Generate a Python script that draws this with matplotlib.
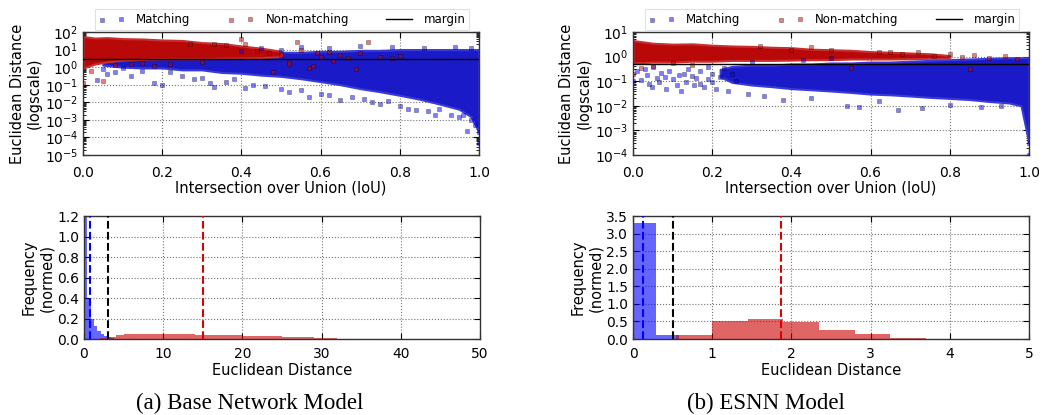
import matplotlib
matplotlib.use("Agg")
import matplotlib.pyplot as plt
from matplotlib.ticker import LogLocator, NullFormatter, MultipleLocator
import numpy as np

# ---------------- data ----------------
# (a) Base network: dense cores (IoU, low, high) and sparse points
base_blue_core_x = [0.05, 0.1, 0.15, 0.2, 0.25, 0.3, 0.35, 0.4, 0.45, 0.5, 0.55, 0.6, 0.65,
                    0.7, 0.75, 0.8, 0.85, 0.9, 0.95, 0.98, 1.0]
base_blue_core_lo = [1.3, 1.0, 0.9, 0.9, 0.7, 0.7, 0.5, 0.45, 0.35, 0.3, 0.22, 0.15, 0.1,
                     0.06, 0.04, 0.025, 0.015, 0.008, 0.004, 0.0015, 0.0002]
base_blue_core_hi = [3.0, 3.0, 3.5, 4.0, 4.0, 5.0, 5.0, 6.0, 6.0, 7.0, 7.0, 8.0, 8.0,
                     9.0, 9.0, 10.0, 10.0, 10.0, 10.0, 10.0, 10.0]
base_red_core_x = [0.0, 0.03, 0.06, 0.1, 0.15, 0.2, 0.25, 0.3, 0.35, 0.4, 0.45, 0.5]
base_red_core_lo = [0.9, 1.5, 2.0, 2.5, 2.8, 3.0, 3.0, 3.0, 3.2, 3.3, 3.5, 4.0]
base_red_core_hi = [55, 45, 48, 42, 40, 35, 33, 25, 22, 16, 12, 8]

base_blue_pts_x = [0.034, 0.061, 0.05, 0.08, 0.1, 0.12, 0.15, 0.18, 0.2, 0.22, 0.25, 0.28,
                   0.3, 0.32, 0.33, 0.36, 0.38, 0.41, 0.43, 0.46, 0.5, 0.52, 0.55, 0.57,
                   0.6, 0.62, 0.65, 0.68, 0.71, 0.73, 0.75, 0.77, 0.8, 0.82, 0.84, 0.87,
                   0.89, 0.9, 0.93, 0.95, 0.96, 0.97, 0.98, 0.99, 1.0, 1.0, 0.45, 0.55,
                   0.62, 0.7, 0.78, 0.86, 0.94, 0.98, 0.4, 0.5]
base_blue_pts_y = [0.19, 0.41, 0.8, 0.5, 0.9, 0.3, 0.6, 0.13, 0.095, 0.5, 0.3, 0.2,
                   0.25, 0.12, 0.07, 0.15, 0.2, 0.063, 0.1, 0.09, 0.06, 0.04, 0.05, 0.019,
                   0.03, 0.025, 0.013, 0.02, 0.015, 0.01, 0.008, 0.012, 0.006, 0.004, 0.0036, 0.003,
                   0.0019, 0.004, 0.002, 0.0015, 0.0019, 0.00023, 0.001, 0.0005, 4.6e-5, 0.0002, 12, 14,
                   13, 15, 14, 13, 14, 12, 8, 10]

base_red_pts_x = [0.0, 0.02, 0.05, 0.08, 0.12, 0.15, 0.18, 0.22, 0.27, 0.3, 0.33, 0.36,
                  0.4, 0.41, 0.44, 0.47, 0.5, 0.52, 0.54, 0.55, 0.57, 0.59, 0.6, 0.62,
                  0.65, 0.67, 0.7, 0.72, 0.75, 0.78, 0.8, 0.48, 0.52, 0.58, 0.63, 0.69]
base_red_pts_y = [0.12, 0.6, 0.16, 1.3, 1.5, 1.7, 1.2, 1.6, 22, 2.0, 20, 18,
                  38, 22, 8, 6, 5, 2.0, 26, 9, 0.86, 6, 4, 7,
                  5, 3.5, 6, 26, 4, 3.5, 4.5, 0.5, 1.5, 1.2, 2.2, 0.8]

base_margin = 3.0

# (b) ESNN
esnn_blue_core_x = [0.22, 0.25, 0.3, 0.35, 0.4, 0.45, 0.5, 0.55, 0.6, 0.65, 0.7, 0.75, 0.8,
                    0.85, 0.9, 0.95, 0.98, 1.0]
esnn_blue_core_lo = [0.15, 0.09, 0.07, 0.06, 0.05, 0.045, 0.04, 0.035, 0.03, 0.028, 0.025,
                     0.022, 0.02, 0.018, 0.015, 0.013, 0.01, 0.0003]
esnn_blue_core_hi = [0.3, 0.4, 0.45, 0.45, 0.5, 0.5, 0.55, 0.55, 0.6, 0.6, 0.65, 0.7, 0.75,
                     0.8, 0.85, 0.9, 0.9, 0.9]
esnn_red_core_x = [0.0, 0.05, 0.1, 0.15, 0.2, 0.25, 0.3, 0.35, 0.4, 0.45, 0.5, 0.55, 0.6,
                   0.65, 0.7, 0.75, 0.8]
esnn_red_core_lo = [0.55, 0.6, 0.6, 0.65, 0.65, 0.7, 0.7, 0.7, 0.72, 0.75, 0.75, 0.8, 0.8,
                    0.8, 0.82, 0.85, 0.85]
esnn_red_core_hi = [4.5, 3.5, 3.2, 3.3, 2.9, 2.7, 2.6, 2.4, 2.3, 2.0, 1.9, 1.8, 1.6,
                    1.5, 1.4, 1.3, 1.1]

esnn_blue_pts_x = [0.0, 0.019, 0.035, 0.047, 0.05, 0.066, 0.083, 0.1, 0.12, 0.135, 0.15,
                   0.17, 0.19, 0.2, 0.22, 0.24, 0.26, 0.29, 0.33, 0.38, 0.45, 0.54,
                   0.57, 0.62, 0.67, 0.73, 0.8, 0.88, 0.93, 1.0, 1.0, 0.03, 0.09, 0.14,
                   0.18, 0.25, 0.11, 0.06, 0.16, 0.21, 0.3, 0.43, 0.5, 0.01, 0.04, 0.07,
                   0.13, 0.17, 0.2, 0.23, 0.08, 0.115, 0.155, 0.19]
esnn_blue_pts_y = [0.1, 0.11, 0.18, 0.06, 0.39, 0.09, 0.05, 0.12, 0.04, 0.09, 0.17,
                   0.08, 0.39, 0.09, 0.15, 0.04, 0.1, 0.03, 0.025, 0.017, 0.02, 0.01,
                   0.009, 0.015, 0.007, 0.008, 0.011, 0.009, 0.01, 0.0003, 0.0001, 0.3, 0.25, 0.3,
                   0.06, 0.2, 0.07, 0.14, 0.13, 0.05, 0.6, 0.7, 0.9, 0.25, 0.08, 0.22,
                   0.2, 0.25, 0.2, 0.35, 0.15, 0.18, 0.07, 0.12]
esnn_red_pts_x = [0.0, 0.02, 0.05, 0.1, 0.15, 0.32, 0.45, 0.55, 0.62, 0.68, 0.72, 0.76,
                  0.8, 0.83, 0.86, 0.9, 0.94, 0.97, 0.4, 0.5, 0.65, 0.85]
esnn_red_pts_y = [0.2, 0.35, 0.4, 0.55, 0.45, 2.8, 2.4, 0.35, 1.5, 1.3, 1.6, 1.1,
                  1.3, 1.0, 1.2, 0.9, 1.1, 0.8, 1.9, 1.9, 1.5, 0.3]
esnn_margin = 0.5

# histograms (bin edges and normed heights)
base_hist_blue_edges = [0.0, 0.42, 0.84, 1.26, 1.68, 2.1, 2.52, 2.94, 3.36, 3.78, 4.2]
base_hist_blue_heights = [1.45, 0.39, 0.195, 0.13, 0.08, 0.05, 0.03, 0.02, 0.01, 0.005]
base_hist_red_edges = list(range(1, 38))
base_hist_red_heights = [0.004, 0.01, 0.02, 0.035, 0.045, 0.05, 0.05, 0.049, 0.047, 0.046,
                         0.045, 0.046, 0.045, 0.044, 0.042, 0.041, 0.04, 0.038, 0.035, 0.032,
                         0.03, 0.031, 0.027, 0.025, 0.021, 0.02, 0.017, 0.015, 0.012, 0.011,
                         0.009, 0.005, 0.003, 0.002, 0.002, 0.001]
base_mean_blue, base_mean_red = 0.8, 15.0

esnn_hist_blue_edges = [0.0, 0.29, 0.58]
esnn_hist_blue_heights = [3.29, 0.12]
esnn_hist_red_edges = [0.54, 1.0, 1.45, 1.9, 2.35, 2.8, 3.25, 3.7, 4.15]
esnn_hist_red_heights = [0.11, 0.52, 0.57, 0.49, 0.27, 0.14, 0.04, 0.008]
esnn_mean_blue, esnn_mean_red = 0.12, 1.87

BLUE = "#0000ff"
RED = "#cc0000"

plt.rcParams["font.family"] = ["DejaVu Sans"]
fig = plt.figure(figsize=(10.42, 4.15), dpi=100)

W = 0.380
ax_ta = fig.add_axes([0.0797, 0.6265, W, 0.2964])
ax_tb = fig.add_axes([0.6075, 0.6265, W, 0.2964])
ax_ba = fig.add_axes([0.0806, 0.1831, W, 0.2964])
ax_bb = fig.add_axes([0.6075, 0.1831, W, 0.2964])


def style(ax, xpad=6):
    ax.tick_params(direction="in", top=True, right=True, labelsize=10, length=4, width=0.8)
    ax.tick_params(axis="x", pad=xpad)
    ax.tick_params(which="minor", direction="in", top=True, right=True, length=2)
    ax.grid(True, which="major", linestyle=":", color="0.45", linewidth=0.8)
    for s in ax.spines.values():
        s.set_linewidth(1.0)
        s.set_color("0.2")


def scatter_panel(ax, bcx, bclo, bchi, rcx, rclo, rchi, bpx, bpy, rpx, rpy, margin, ylo, yhi):
    ax.fill_between(bcx, bclo, bchi, color="#1a1ac8", linewidth=1.5, edgecolor="#3a3ad8", zorder=2)
    ax.scatter(bpx, bpy, marker="s", s=11, c=BLUE, alpha=0.5, edgecolors="k", linewidths=0.4,
               label="Matching", zorder=3)
    ax.fill_between(rcx, rclo, rchi, color="#b80808", linewidth=1.5, edgecolor="#c83030", zorder=2.5)
    ax.scatter(rpx, rpy, marker="s", s=11, c=RED, alpha=0.5, edgecolors="k", linewidths=0.4,
               label="Non-matching", zorder=3)
    ax.axhline(margin, color="k", linewidth=1.0, label="margin", zorder=4)
    ax.set_yscale("log")
    ax.set_ylim(ylo, yhi)
    ax.set_xlim(0, 1)
    ax.yaxis.set_major_locator(LogLocator(base=10, numticks=20))
    ax.yaxis.set_minor_locator(LogLocator(base=10, subs=np.arange(2, 10), numticks=20))
    ax.yaxis.set_minor_formatter(NullFormatter())
    ax.xaxis.set_major_locator(MultipleLocator(0.2))
    ax.xaxis.set_major_formatter(plt.FuncFormatter(lambda v, p: f"{v:.1f}"))
    style(ax, xpad=8)
    ax.set_xlabel("Intersection over Union (IoU)", fontsize=10.5, labelpad=0)
    ax.set_ylabel("Euclidean Distance\n(logscale)", fontsize=10.5, labelpad=2)
    leg = ax.legend(loc="lower left", bbox_to_anchor=(0.03, 1.02, 0.945, 0.15), mode="expand",
                    ncol=3, fontsize=8.5, scatterpoints=2, handlelength=2.2, borderaxespad=0,
                    frameon=True, fancybox=False, borderpad=0.3, handletextpad=1.0)
    leg.get_frame().set_edgecolor("0.85")
    leg.get_frame().set_linewidth(0.8)


scatter_panel(ax_ta, base_blue_core_x, base_blue_core_lo, base_blue_core_hi,
              base_red_core_x, base_red_core_lo, base_red_core_hi,
              base_blue_pts_x, base_blue_pts_y, base_red_pts_x, base_red_pts_y,
              base_margin, 1e-5, 1e2)
scatter_panel(ax_tb, esnn_blue_core_x, esnn_blue_core_lo, esnn_blue_core_hi,
              esnn_red_core_x, esnn_red_core_lo, esnn_red_core_hi,
              esnn_blue_pts_x, esnn_blue_pts_y, esnn_red_pts_x, esnn_red_pts_y,
              esnn_margin, 1e-4, 1e1)


def hist_panel(ax, be, bh, re, rh, mb, margin, mr, xmax, ymax, ystep, xstep):
    ax.stairs(bh, be, fill=True, color=BLUE, alpha=0.6, zorder=2)
    ax.stairs(rh, re, fill=True, color=RED, alpha=0.6, zorder=2)
    ax.axvline(mb, color="b", linestyle="--", linewidth=1.5, zorder=3)
    ax.axvline(margin, color="k", linestyle="--", linewidth=1.5, zorder=3)
    ax.axvline(mr, color="#dd0000", linestyle="--", linewidth=1.5, zorder=3)
    ax.set_xlim(0, xmax)
    ax.set_ylim(0, ymax)
    ax.yaxis.set_major_locator(MultipleLocator(ystep))
    ax.xaxis.set_major_locator(MultipleLocator(xstep))
    ax.yaxis.set_major_formatter(plt.FuncFormatter(lambda v, p: f"{v:.1f}"))
    style(ax, xpad=6)
    ax.set_xlabel("Euclidean Distance", fontsize=10.5, labelpad=1)
    ax.set_ylabel("Frequency\n(normed)", fontsize=10.5, labelpad=2)


hist_panel(ax_ba, base_hist_blue_edges, base_hist_blue_heights, base_hist_red_edges,
           base_hist_red_heights, base_mean_blue, base_margin, base_mean_red, 50, 1.2, 0.2, 10)
hist_panel(ax_bb, esnn_hist_blue_edges, esnn_hist_blue_heights, esnn_hist_red_edges,
           esnn_hist_red_heights, esnn_mean_blue, esnn_margin, esnn_mean_red, 5, 3.5, 0.5, 1)

fig.text(0.24, 0.027, "(a) Base Network Model", ha="center", va="center",
         fontsize=16.5, family="Liberation Serif")
fig.text(0.735, 0.027, "(b) ESNN Model", ha="center", va="center",
         fontsize=16.5, family="Liberation Serif")

fig.savefig("out.png", dpi=100)
